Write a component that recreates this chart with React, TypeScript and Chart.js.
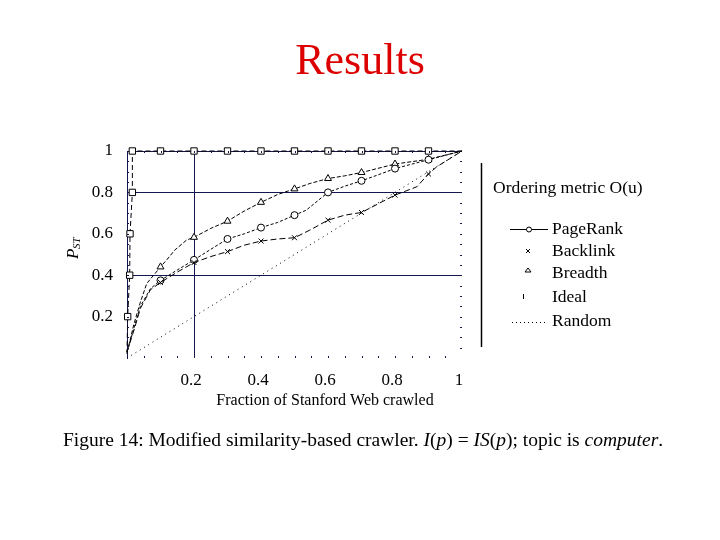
import React, { useEffect, useRef } from "react";
import { Chart, registerables } from "chart.js";

Chart.register(...registerables);

const FONT = '"Liberation Serif", "Times New Roman", serif';
const NAVY = "#16164e";

// ---- axes ----
const xTickValues = [0.2, 0.4, 0.6, 0.8, 1];
const yTickValues = [0.2, 0.4, 0.6, 0.8, 1];
const xGridValues = [0.2];
const yGridValues = [0.4, 0.8, 1];
const minorStep = 0.05;
const xAxisTitle = "Fraction of Stanford Web crawled";
const legendTitle = "Ordering metric O(u)";
const seriesNames = ["PageRank", "Backlink", "Breadth", "Ideal", "Random"];

// ---- series ----
const pagerankX = [0, 0.004, 0.02, 0.04, 0.07, 0.1, 0.15, 0.2, 0.25, 0.3, 0.35, 0.4, 0.45, 0.5, 0.535, 0.6, 0.65, 0.7, 0.75, 0.8, 0.9, 1];
const pagerankY = [0.03, 0.05, 0.14, 0.25, 0.335, 0.375, 0.425, 0.474, 0.525, 0.575, 0.6, 0.63, 0.655, 0.69, 0.714, 0.8, 0.83, 0.856, 0.885, 0.915, 0.958, 1];
const pagerankMarks = [0.1, 0.2, 0.3, 0.4, 0.5, 0.6, 0.7, 0.8, 0.9];

const backlinkX = [0, 0.004, 0.02, 0.04, 0.07, 0.1, 0.15, 0.2, 0.25, 0.3, 0.35, 0.4, 0.45, 0.5, 0.546, 0.6, 0.65, 0.7, 0.75, 0.8, 0.865, 0.9, 0.924, 1];
const backlinkY = [0.03, 0.05, 0.13, 0.24, 0.33, 0.365, 0.415, 0.461, 0.49, 0.514, 0.545, 0.565, 0.575, 0.581, 0.618, 0.666, 0.69, 0.703, 0.745, 0.787, 0.827, 0.889, 0.923, 1];
const backlinkMarks = [0.1, 0.2, 0.3, 0.4, 0.5, 0.6, 0.7, 0.8, 0.9];

const breadthX = [0, 0.004, 0.02, 0.039, 0.059, 0.1, 0.118, 0.143, 0.178, 0.2, 0.25, 0.3, 0.35, 0.4, 0.45, 0.5, 0.546, 0.6, 0.65, 0.7, 0.8, 0.9, 1];
const breadthY = [0.03, 0.05, 0.16, 0.265, 0.36, 0.44, 0.473, 0.522, 0.57, 0.583, 0.626, 0.661, 0.71, 0.752, 0.79, 0.817, 0.843, 0.867, 0.88, 0.896, 0.937, 0.96, 1];
const breadthMarks = [0.1, 0.2, 0.3, 0.4, 0.5, 0.6, 0.7, 0.8, 0.9];

const idealX = [0, 0.002, 0.008, 0.009, 0.016, 0.016, 0.1, 0.2, 0.3, 0.4, 0.5, 0.6, 0.7, 0.8, 0.9, 1];
const idealY = [0.02, 0.2, 0.4, 0.6, 0.8, 1, 1, 1, 1, 1, 1, 1, 1, 1, 1, 1];
const idealMarks = [0.002, 0.008, 0.009, 0.016, 0.1, 0.2, 0.3, 0.4, 0.5, 0.6, 0.7, 0.8, 0.9];

const randomX = [0, 1];
const randomY = [0, 1];

function toPoints(xs: number[], ys: number[]) {
  return xs.map((x, i) => ({ x, y: ys[i] }));
}

function markerRadius(marks: number[], r: number) {
  return (c: any) => (c.raw && marks.includes(c.raw.x) ? r : 0);
}

function line(ctx: CanvasRenderingContext2D, x1: number, y1: number, x2: number, y2: number) {
  ctx.beginPath();
  ctx.moveTo(x1, y1);
  ctx.lineTo(x2, y2);
  ctx.stroke();
}

const decorPlugin = {
  id: "decor",
  afterDraw(chart: any) {
    const { ctx, chartArea: a, scales } = chart;
    const xs = scales.x;
    const ys = scales.y;
    ctx.save();
    // minor ticks
    ctx.strokeStyle = NAVY;
    ctx.lineWidth = 1;
    for (let i = 1; i < Math.round(1 / minorStep); i++) {
      const v = i * minorStep;
      const px = Math.round(xs.getPixelForValue(v)) + 0.5;
      const py = Math.round(ys.getPixelForValue(v)) + 0.5;
      line(ctx, px, a.bottom, px, a.bottom - 2);
      line(ctx, px, a.top, px, a.top + 2);
      line(ctx, a.right, py, a.right - 2, py);
      line(ctx, a.left, py, a.left + 2, py);
    }
    // x axis title
    ctx.fillStyle = "#000";
    ctx.font = `16px ${FONT}`;
    ctx.textAlign = "center";
    ctx.textBaseline = "middle";
    ctx.fillText(xAxisTitle, 325, 401);
    // y axis title P_ST (rotated)
    ctx.save();
    ctx.translate(78, 259);
    ctx.rotate(-Math.PI / 2);
    ctx.textAlign = "left";
    ctx.textBaseline = "alphabetic";
    ctx.font = `italic 17px ${FONT}`;
    ctx.fillText("P", 0, 0);
    ctx.font = `italic 11px ${FONT}`;
    ctx.fillText("ST", 10, 2);
    ctx.restore();

    // legend
    ctx.strokeStyle = "#000";
    ctx.lineWidth = 1.5;
    line(ctx, 481.5, 163, 481.5, 347);
    ctx.font = `17.5px ${FONT}`;
    ctx.textAlign = "left";
    ctx.textBaseline = "middle";
    ctx.fillText(legendTitle, 493, 188);
    const rowY = [229, 251, 273, 297, 321];
    seriesNames.forEach((name, i) => {
      const yy = rowY[i];
      ctx.fillStyle = "#000";
      ctx.fillText(name, 552, yy);
      ctx.lineWidth = 1;
      ctx.strokeStyle = "#000";
      if (i === 0) {
        line(ctx, 510, yy + 0.5, 548, yy + 0.5);
        ctx.beginPath();
        ctx.arc(529, yy + 0.5, 2.5, 0, Math.PI * 2);
        ctx.fillStyle = "#fff";
        ctx.fill();
        ctx.stroke();
      } else if (i === 1) {
        line(ctx, 526, yy - 2, 530, yy + 2);
        line(ctx, 526, yy + 2, 530, yy - 2);
      } else if (i === 2) {
        ctx.beginPath();
        ctx.moveTo(528, yy - 5);
        ctx.lineTo(531, yy - 1);
        ctx.lineTo(525, yy - 1);
        ctx.closePath();
        ctx.stroke();
      } else if (i === 3) {
        line(ctx, 523.5, yy - 3, 523.5, yy + 2);
      } else {
        ctx.setLineDash([1, 3]);
        line(ctx, 512, yy + 1.5, 548, yy + 1.5);
        ctx.setLineDash([]);
      }
    });
    ctx.restore();
  },
};

export default function App() {
  const ref = useRef<HTMLCanvasElement>(null);

  useEffect(() => {
    document.body.style.margin = "0";
    const tickFont = { family: FONT, size: 17 };
    const common = {
      showLine: true,
      borderColor: "#000",
      borderWidth: 1,
      pointBorderColor: "#000",
      pointBackgroundColor: "#fff",
      pointBorderWidth: 1,
      tension: 0,
      fill: false,
      clip: false as const,
    };
    const chart = new Chart(ref.current!, {
      type: "scatter",
      data: {
        datasets: [
          { ...common, label: "Random", data: toPoints(randomX, randomY), borderDash: [1, 4], pointRadius: 0 },
          {
            ...common,
            label: "Ideal",
            data: toPoints(idealX, idealY),
            borderDash: [5, 3],
            pointStyle: "rect",
            pointRadius: markerRadius(idealMarks, 4.5),
          },
          {
            ...common,
            label: "Backlink",
            data: toPoints(backlinkX, backlinkY),
            borderDash: [6, 3],
            pointStyle: "crossRot",
            pointRadius: markerRadius(backlinkMarks, 3.5),
          },
          {
            ...common,
            label: "PageRank",
            data: toPoints(pagerankX, pagerankY),
            borderDash: [3, 2],
            pointStyle: "circle",
            pointRadius: markerRadius(pagerankMarks, 3.5),
          },
          {
            ...common,
            label: "Breadth",
            data: toPoints(breadthX, breadthY),
            borderDash: [4, 2],
            pointStyle: "triangle",
            pointRadius: markerRadius(breadthMarks, 4),
          },
        ],
      },
      options: {
        responsive: false,
        animation: false,
        devicePixelRatio: 1,
        events: [],
        layout: { padding: { left: 67, right: 258, top: 151, bottom: 152 } },
        plugins: { legend: { display: false }, tooltip: { enabled: false } },
        scales: {
          x: {
            type: "linear",
            min: 0,
            max: 1,
            afterBuildTicks: (s: any) => {
              s.ticks = xTickValues.map((v) => ({ value: v }));
            },
            afterFit: (s: any) => {
              s.height = 30;
              s.paddingLeft = 0;
              s.paddingRight = 0;
            },
            border: { display: false },
            grid: {
              drawTicks: false,
              lineWidth: 1,
              color: (c: any) => (c.tick && xGridValues.includes(c.tick.value) ? NAVY : "rgba(0,0,0,0)"),
            },
            ticks: {
              font: tickFont,
              color: "#000",
              padding: 12,
              labelOffset: -3,
              maxRotation: 0,
              autoSkip: false,
              callback: (v: any) => String(Number(v)),
            },
          },
          y: {
            type: "linear",
            min: 0,
            max: 1,
            afterBuildTicks: (s: any) => {
              s.ticks = yTickValues.map((v) => ({ value: v }));
            },
            afterFit: (s: any) => {
              s.width = 60;
              s.paddingTop = 0;
              s.paddingBottom = 0;
            },
            border: { display: true, color: NAVY, width: 1 },
            grid: {
              drawTicks: false,
              lineWidth: 1,
              color: (c: any) => (c.tick && yGridValues.includes(c.tick.value) ? NAVY : "rgba(0,0,0,0)"),
            },
            ticks: {
              font: tickFont,
              color: "#000",
              padding: 14,
              autoSkip: false,
              callback: (v: any) => String(Number(v)),
            },
          },
        },
      },
      plugins: [decorPlugin],
    } as any);
    return () => chart.destroy();
  }, []);

  return (
    <div style={{ position: "relative", width: 720, height: 540, overflow: "hidden", fontFamily: FONT, background: "#fff" }}>
      <canvas ref={ref} width={720} height={540} style={{ position: "absolute", left: 0, top: 0, width: 720, height: 540 }} />
      <div style={{ position: "absolute", top: 38, left: 0, width: 720, textAlign: "center", fontSize: 44, lineHeight: 1, color: "#dd0000" }}>
        Results
      </div>
      <div style={{ position: "absolute", top: 429, left: 3, width: 720, textAlign: "center", fontSize: 19.5, lineHeight: "22px", color: "#000", whiteSpace: "nowrap" }}>
        Figure 14: Modified similarity-based crawler. <i>I</i>(<i>p</i>) = <i>IS</i>(<i>p</i>); topic is <i>computer</i>.
      </div>
    </div>
  );
}
